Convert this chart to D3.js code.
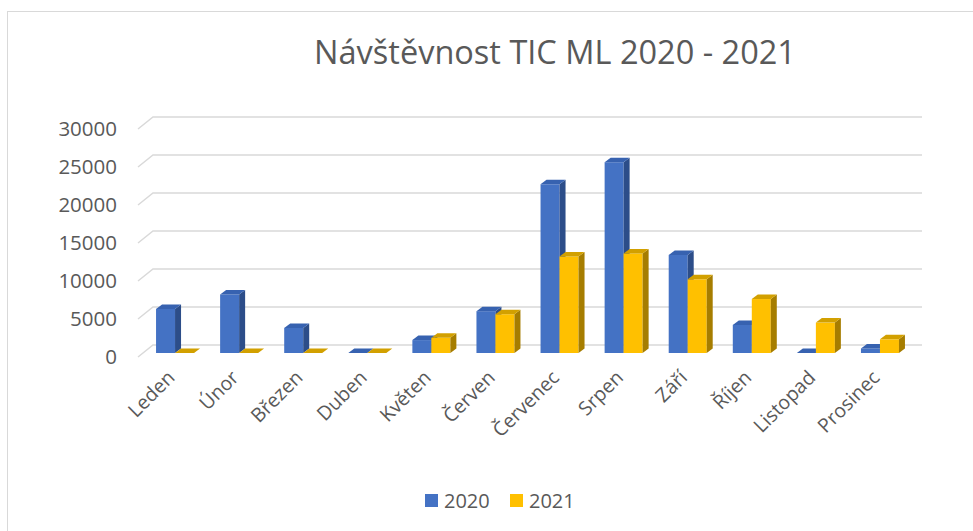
<!DOCTYPE html>
<html>
<head>
<meta charset="utf-8">
<script src="https://cdn.jsdelivr.net/npm/d3@7"></script>
<style>
  body { margin: 0; background: #fff; }
  text { font-family: "Open Sans", sans-serif; fill: #595959; }
</style>
</head>
<body>
<svg id="chart" width="973" height="531"></svg>
<script>
var months = ["Leden", "Únor", "Březen", "Duben", "Květen", "Červen",
  "Červenec", "Srpen", "Září", "Říjen", "Listopad", "Prosinec"];
var visits2020 = [5800, 7700, 3300, 0, 1700, 5500, 22200, 25100, 12900, 3700, 0, 600];
var visits2021 = [0, 0, 0, 0, 2000, 5100, 12700, 13100, 9700, 7100, 4000, 1800];
var yTicks = [0, 5000, 10000, 15000, 20000, 25000, 30000];
var seriesNames = ["2020", "2021"];

var svg = d3.select("#chart");

// oblique 3d: floor depth and bar depth offsets
var floorDepth = {x: 15, y: -12};
var barShift = {x: 5, y: -4}, barDepth = {x: 6, y: -4.5};
var barW = 19;

var x = d3.scaleBand().domain(months).range([138, 907]);
var y = d3.scaleLinear().domain([0, 30000]).range([357, 129]);

var palette = [
  {front: "#4472C4", side: "#2C4D89", top: "#3762B0"},
  {front: "#FFC000", side: "#A67D00", top: "#D2A000"}
];

// outer border
svg.append("rect")
  .attr("x", 7.5).attr("y", 11.5)
  .attr("width", 1200).attr("height", 600)
  .attr("fill", "none").attr("stroke", "#D9D9D9");

svg.append("text")
  .attr("x", 555).attr("y", 64)
  .attr("text-anchor", "middle")
  .style("font-size", "32.5px")
  .text("Návštěvnost TIC ML 2020 - 2021");

// gridlines (back wall + left side wall)
var grid = svg.append("g").attr("stroke", "#D9D9D9").attr("stroke-width", 1.5).attr("fill", "none");
yTicks.forEach(function(t) {
  var yf = y(t);
  grid.append("path")
    .attr("d", "M" + x.range()[0] + "," + yf +
      "L" + (x.range()[0] + floorDepth.x) + "," + (yf + floorDepth.y) +
      "L" + (x.range()[1] + floorDepth.x) + "," + (yf + floorDepth.y));
});

svg.append("g").selectAll("text")
  .data(yTicks).enter().append("text")
  .attr("x", 117).attr("y", function(d){ return y(d); })
  .attr("dy", "0.35em")
  .attr("text-anchor", "end")
  .style("font-size", "20.5px")
  .text(function(d){ return d; });

// bars
var bars = svg.append("g");
months.forEach(function(m, i) {
  [visits2020[i], visits2021[i]].forEach(function(v, s) {
    var c = palette[s];
    var x0 = x(m) + x.bandwidth() / 2 - barW + s * barW + barShift.x;
    var yb = y(0) + barShift.y, yt = y(v) + barShift.y;
    var g = bars.append("g");
    if (v > 0) {
      g.append("rect").attr("x", x0).attr("y", yt)
        .attr("width", barW).attr("height", yb - yt).attr("fill", c.front);
      g.append("path").attr("fill", c.side).attr("d",
        "M" + (x0 + barW) + "," + yb +
        "L" + (x0 + barW + barDepth.x) + "," + (yb + barDepth.y) +
        "L" + (x0 + barW + barDepth.x) + "," + (yt + barDepth.y) +
        "L" + (x0 + barW) + "," + yt + "Z");
    }
    g.append("path").attr("fill", c.top).attr("d",
      "M" + x0 + "," + yt +
      "L" + (x0 + barDepth.x) + "," + (yt + barDepth.y) +
      "L" + (x0 + barW + barDepth.x) + "," + (yt + barDepth.y) +
      "L" + (x0 + barW) + "," + yt + "Z");
  });
});

// category labels
svg.append("g").selectAll("text")
  .data(months).enter().append("text")
  .attr("transform", function(d){
    return "translate(" + (x(d) + x.bandwidth() / 2 + 1) + ",374) rotate(-45)";
  })
  .attr("text-anchor", "end")
  .attr("dy", "0.35em")
  .style("font-size", "19.5px")
  .text(function(d){ return d; });

// legend
var legend = svg.append("g");
var legendX = [425, 510];
seriesNames.forEach(function(name, s) {
  legend.append("rect").attr("x", legendX[s]).attr("y", 494)
    .attr("width", 13).attr("height", 13).attr("fill", palette[s].front);
  legend.append("text").attr("x", legendX[s] + 19).attr("y", 500.5)
    .attr("dy", "0.35em").style("font-size", "20px").text(name);
});
</script>
</body>
</html>
